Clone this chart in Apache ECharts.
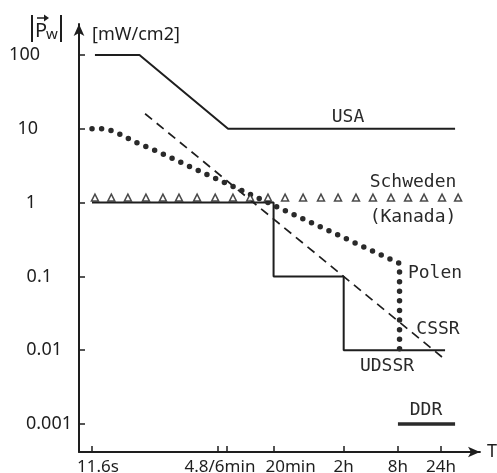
<!DOCTYPE html>
<html><head><meta charset="utf-8">
<script src="https://cdn.jsdelivr.net/npm/echarts@6/dist/echarts.min.js"></script>
<style>html,body{margin:0;padding:0;background:#fff}#c{width:497px;height:473px}</style>
</head><body><div id="c"></div>
<script>
// exposure time T in seconds, power density |Pw| in mW/cm2
const usaT = [12.5, 39, 375, 124000];
const usaP = [100, 100, 10, 10];
const udssrT = [11.6, 1200, 1200, 7200, 7200, 96000];
const udssrP = [1, 1, 0.1, 0.1, 0.01, 0.01];
const polenT = [11.6, 16, 20, 26, 33, 54, 30000, 30000];
const polenP = [10, 10, 9.3, 8, 6.8, 5.3, 0.15, 0.01];
const cssrT = [45, 88700];
const cssrP = [16, 0.0081];
const ddrT = [28800, 124000];
const ddrP = [0.001, 0.001];
const schwedenT = [12.5, 19, 29, 46, 71, 107, 170, 270, 425, 660, 1040, 1610, 2550, 4030, 6230, 9860, 15200, 24100, 37300, 56100, 88800, 134000];
const schwedenP = [1, 1, 1, 1, 1, 1, 1, 1, 1, 1, 1, 1, 1, 1, 1, 1, 1, 1, 1, 1, 1, 1];

const xTicks = [11.6, 288, 360, 1200, 7200, 28800, 86400];
const xLabelVals = [11.6, 305, 1200, 7200, 28800, 86400];
const xLabels = ['11.6s', '4.8/6min', '20min', '2h', '8h', '24h'];
const yTicks = [0.001, 0.01, 0.1, 1, 10, 100];
const yLabels = ['0.001', '0.01', '0.1', '1', '10', '100'];

const lg = Math.log10;
const pts = (T, P) => T.map((t, i) => [lg(t), lg(P[i])]);
const findIdx = (vals, v) => vals.findIndex(x => Math.abs(lg(x) - v) < 1e-6);

const ink = '#1e1e1e';
const labelFont = 'Noto Sans';
const monoFont = 'DejaVu Sans Mono';

// per-label shifts (style only)
const xPad = [12, 0, 34, 0, 0, 0];
const xRich = {};
xPad.forEach((p, i) => { xRich['l' + i] = {fontSize: 17, fontFamily: labelFont, color: ink, padding: [0, 0, 0, p]}; });
const yPad = [0, 10, 20, 36, 34, 32];
const yRich = {};
yPad.forEach((p, i) => { yRich['y' + i] = {fontSize: 18, fontFamily: labelFont, color: ink, padding: [0, p, 0, 0]}; });

const chart = echarts.init(document.getElementById('c'), null, {renderer: 'canvas'});

const txt = (s, x, y) => ({
  type: 'text', x: x, y: y,
  style: {text: s, font: '18px "' + monoFont + '"', fill: '#2a2a2a', align: 'center', verticalAlign: 'middle'}
});

chart.setOption({
  backgroundColor: '#fff',
  animation: false,
  grid: {left: 79, right: 17, top: 24, bottom: 21, outerBoundsMode: 'none'},
  xAxis: {
    type: 'value', min: 0.92, max: 5.37,
    name: 'T', nameLocation: 'end', nameGap: 7,
    nameTextStyle: {fontSize: 18, fontFamily: labelFont, color: ink, verticalAlign: 'middle'},
    splitLine: {show: false},
    axisLine: {show: true, onZero: false, symbol: ['none', 'arrow'], symbolSize: [8, 12], lineStyle: {color: ink, width: 1.8}},
    axisTick: {show: true, inside: true, length: 6, lineStyle: {color: ink, width: 1.5}, customValues: xTicks.map(lg)},
    axisLabel: {
      show: true, margin: 7, customValues: xLabelVals.map(lg),
      formatter: v => { const i = findIdx(xLabelVals, v); return '{l' + i + '|' + xLabels[i] + '}'; },
      rich: xRich
    }
  },
  yAxis: {
    type: 'value', min: -3.379, max: 2.42,
    splitLine: {show: false},
    axisLine: {show: true, onZero: false, symbol: ['none', 'arrow'], symbolSize: [8, 12], lineStyle: {color: ink, width: 2}},
    axisTick: {show: true, inside: true, length: 6, lineStyle: {color: ink, width: 1.5}, customValues: yTicks.map(lg)},
    axisLabel: {
      show: true, margin: 7, align: 'right', customValues: yTicks.map(lg),
      formatter: v => { const i = findIdx(yTicks, v); return '{y' + i + '|' + yLabels[i] + '}'; },
      rich: yRich
    }
  },
  series: [
    {name: 'USA', type: 'line', data: pts(usaT, usaP), symbol: 'none', lineStyle: {color: ink, width: 2}},
    {name: 'UDSSR', type: 'line', data: pts(udssrT, udssrP), symbol: 'none', lineStyle: {color: ink, width: 2}},
    {name: 'CSSR', type: 'line', data: pts(cssrT, cssrP), symbol: 'none', lineStyle: {color: ink, width: 1.7, type: [9, 6]}},
    {name: 'Polen', type: 'line', data: pts(polenT, polenP), symbol: 'none', lineStyle: {color: '#2a2a2a', width: 5.5, type: [0, 9.6], cap: 'round'}},
    {name: 'DDR', type: 'line', data: pts(ddrT, ddrP), symbol: 'none', lineStyle: {color: '#2a2a2a', width: 3.5}},
    {name: 'Schweden', type: 'scatter', data: pts(schwedenT, schwedenP), symbol: 'triangle', symbolSize: [7, 7], symbolOffset: [0, -5],
      itemStyle: {color: '#fff', borderColor: ink, borderWidth: 1.5}, z: 3}
  ],
  graphic: [
    {type: 'line', shape: {x1: 32, y1: 15, x2: 32, y2: 42}, style: {stroke: ink, lineWidth: 2}},
    {type: 'line', shape: {x1: 61, y1: 15, x2: 61, y2: 42}, style: {stroke: ink, lineWidth: 2}},
    {type: 'text', x: 41, y: 31, style: {text: 'P', font: '20px "' + labelFont + '"', fill: ink, align: 'center', verticalAlign: 'middle'}},
    {type: 'text', x: 52, y: 35, style: {text: 'w', font: '15px "' + labelFont + '"', fill: ink, align: 'center', verticalAlign: 'middle'}},
    {type: 'line', shape: {x1: 37, y1: 18, x2: 47, y2: 18}, style: {stroke: ink, lineWidth: 1.5}},
    {type: 'polygon', shape: {points: [[44, 14.5], [49, 18], [44, 21.5]]}, style: {fill: ink}},
    {type: 'text', x: 92, y: 35, style: {text: '[mW/cm2]', font: '18px "' + labelFont + '"', fill: ink, align: 'left', verticalAlign: 'middle'}},
    txt('USA', 348, 117),
    txt('Schweden', 413, 182),
    txt('(Kanada)', 413, 217),
    txt('Polen', 435, 273),
    txt('CSSR', 438, 329),
    txt('UDSSR', 387, 366),
    txt('DDR', 426, 410)
  ]
});
</script>
</body></html>
